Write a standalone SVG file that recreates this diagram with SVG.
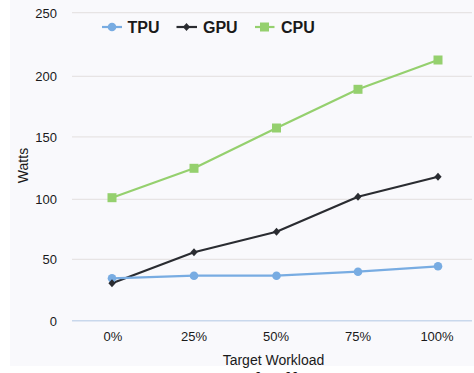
<svg xmlns="http://www.w3.org/2000/svg" width="474" height="373" viewBox="0 0 474 373">
  <style>
    .tick { font-family: "Liberation Sans", Arial, sans-serif; font-size: 13px; fill: #1a1a1a; }
    .ylab { text-anchor: end; }
    .xlab { text-anchor: middle; }
    .title { font-family: "Liberation Sans", Arial, sans-serif; font-size: 14px; fill: #1a1a1a; }
    .legend { font-family: "Liberation Sans", Arial, sans-serif; font-size: 16px; font-weight: bold; fill: #1a1a1a; }
    .grid { stroke: #e7e4e4; stroke-width: 1.3; }
    .base { stroke: #c9d8ec; stroke-width: 1.6; }
    .tpu { fill: none; stroke: #78ace2; stroke-width: 2.2; stroke-linejoin: round; }
    .gpu { fill: none; stroke: #2a2c31; stroke-width: 2.2; stroke-linejoin: round; }
    .cpu { fill: none; stroke: #95d06e; stroke-width: 2.2; stroke-linejoin: round; }
    .caption { font-family: "Liberation Serif", "Times New Roman", serif; font-size: 22px; fill: #111; }
  </style>
  <defs>
    <circle id="m-tpu" r="4.3" fill="#78ace2"/>
    <path id="m-gpu" d="M0,-4 L3.6,0 L0,4 L-3.6,0 Z" fill="#2a2c31"/>
    <rect id="m-cpu" x="-4.5" y="-4.5" width="9" height="9" fill="#95d06e"/>
  </defs>

  <!-- page and plot background -->
  <rect x="0" y="0" width="474" height="373" fill="#ffffff"/>
  <rect x="10" y="0" width="464" height="366" fill="#f9f9fc"/>

  <!-- horizontal gridlines -->
  <g id="gridlines">
    <line class="grid" x1="72" y1="12.7" x2="472" y2="12.7"/>
    <line class="grid" x1="72" y1="76.3" x2="472" y2="76.3"/>
    <line class="grid" x1="72" y1="136.9" x2="472" y2="136.9"/>
    <line class="grid" x1="72" y1="199.3" x2="472" y2="199.3"/>
    <line class="grid" x1="72" y1="259.3" x2="472" y2="259.3"/>
    <line class="base" x1="72" y1="320.7" x2="472" y2="320.7"/>
  </g>

  <!-- y axis -->
  <g id="y-axis">
    <text class="tick ylab" x="57" y="18">250</text>
    <text class="tick ylab" x="57" y="81">200</text>
    <text class="tick ylab" x="57" y="142">150</text>
    <text class="tick ylab" x="57" y="204">100</text>
    <text class="tick ylab" x="57" y="264">50</text>
    <text class="tick ylab" x="57" y="326">0</text>
    <text class="title" transform="translate(27.5,165.5) rotate(-90)" text-anchor="middle">Watts</text>
  </g>

  <!-- x axis -->
  <g id="x-axis">
    <text class="tick xlab" x="113" y="341">0%</text>
    <text class="tick xlab" x="194" y="341">25%</text>
    <text class="tick xlab" x="276" y="341">50%</text>
    <text class="tick xlab" x="358" y="341">75%</text>
    <text class="tick xlab" x="437" y="341">100%</text>
    <text class="title" x="273.5" y="365" text-anchor="middle">Target Workload</text>
  </g>

  <!-- data series -->
  <g id="connectors">
    <polyline id="line-cpu" class="cpu" points="112,197.7 194,168.3 276.5,128 358,89.3 438,60"/>
    <polyline id="line-gpu" class="gpu" points="112,283.3 194,252.3 276.5,231.7 358,196.7 438,176.7"/>
    <polyline id="line-tpu" class="tpu" points="112,278.3 194,275.7 276.5,275.7 358,271.7 438,266.3"/>
  </g>

  <g id="cpu-points">
    <use href="#m-cpu" x="112" y="197.7"/>
    <use href="#m-cpu" x="194" y="168.3"/>
    <use href="#m-cpu" x="276.5" y="128"/>
    <use href="#m-cpu" x="358" y="89.3"/>
    <use href="#m-cpu" x="438" y="60"/>
  </g>
  <g id="tpu-points">
    <use href="#m-tpu" x="112" y="278.3"/>
    <use href="#m-tpu" x="194" y="275.7"/>
    <use href="#m-tpu" x="276.5" y="275.7"/>
    <use href="#m-tpu" x="358" y="271.7"/>
    <use href="#m-tpu" x="438" y="266.3"/>
  </g>
  <g id="gpu-points">
    <use href="#m-gpu" x="112" y="283.3"/>
    <use href="#m-gpu" x="194" y="252.3"/>
    <use href="#m-gpu" x="276.5" y="231.7"/>
    <use href="#m-gpu" x="358" y="196.7"/>
    <use href="#m-gpu" x="438" y="176.7"/>
  </g>

  <!-- legend -->
  <g id="legend-tpu">
    <line class="tpu" x1="102" y1="27" x2="122" y2="27"/>
    <use href="#m-tpu" x="112" y="27"/>
    <text class="legend" x="127.5" y="33">TPU</text>
  </g>
  <g id="legend-gpu">
    <line class="gpu" x1="176.5" y1="27" x2="197" y2="27"/>
    <use href="#m-gpu" x="186.5" y="27"/>
    <text class="legend" x="203" y="33">GPU</text>
  </g>
  <g id="legend-cpu">
    <line class="cpu" x1="255" y1="27" x2="274.5" y2="27"/>
    <use href="#m-cpu" x="264.5" y="27"/>
    <text class="legend" x="281" y="33">CPU</text>
  </g>

  <!-- caption line, cut by the lower edge -->
  <text class="caption" x="0" y="387">2:  The power consumption of different workload</text>
</svg>
